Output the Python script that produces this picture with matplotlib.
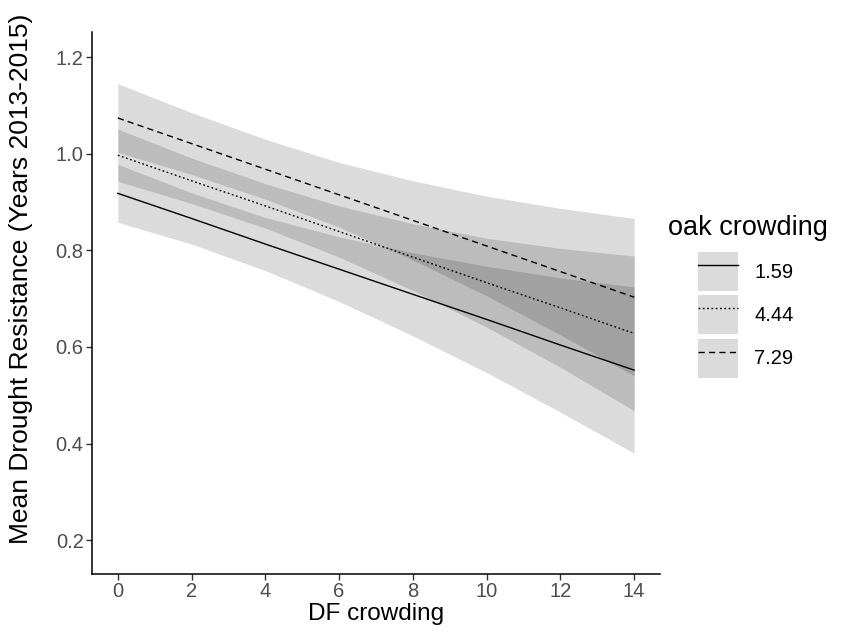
import matplotlib
matplotlib.use("Agg")
import matplotlib.pyplot as plt
from matplotlib.patches import Patch
from matplotlib.lines import Line2D

plt.rcParams["font.family"] = ["Liberation Sans", "DejaVu Sans"]

# predicted resistance vs DF crowding, one curve per oak crowding level
df_crowding = [0, 2, 4, 6, 8, 10, 12, 14]
oak_levels = ["1.59", "4.44", "7.29"]

fit_159 = [0.918, 0.866, 0.813, 0.761, 0.709, 0.657, 0.604, 0.552]
lo_159 = [0.858, 0.813, 0.758, 0.694, 0.623, 0.547, 0.465, 0.380]
hi_159 = [0.978, 0.919, 0.868, 0.828, 0.795, 0.767, 0.743, 0.724]

fit_444 = [0.997, 0.944, 0.892, 0.839, 0.786, 0.733, 0.681, 0.628]
lo_444 = [0.943, 0.897, 0.846, 0.786, 0.717, 0.641, 0.558, 0.468]
hi_444 = [1.051, 0.991, 0.938, 0.892, 0.855, 0.825, 0.804, 0.788]

fit_729 = [1.074, 1.021, 0.968, 0.915, 0.862, 0.809, 0.756, 0.703]
lo_729 = [1.003, 0.957, 0.906, 0.848, 0.780, 0.706, 0.625, 0.540]
hi_729 = [1.145, 1.085, 1.030, 0.982, 0.944, 0.912, 0.887, 0.866]

x_ticks = [0, 2, 4, 6, 8, 10, 12, 14]
y_ticks = [0.2, 0.4, 0.6, 0.8, 1.0, 1.2]

fits = [fit_159, fit_444, fit_729]
lows = [lo_159, lo_444, lo_729]
highs = [hi_159, hi_444, hi_729]
styles = ["-", (0, (1.3, 1.8)), (0, (4.5, 3))]
band_alpha = 0.14

fig = plt.figure(figsize=(8.65, 6.33), dpi=100)
ax = fig.add_axes([92 / 865, 1 - 574 / 633, 568 / 865, 542 / 633])

for lo, hi in zip(lows, highs):
    ax.fill_between(df_crowding, lo, hi, color="black", alpha=band_alpha, lw=0)
for fit, ls in zip(fits, styles):
    ax.plot(df_crowding, fit, color="black", lw=1.0, linestyle=ls)

ax.set_xlim(-0.7, 14.7)
ax.set_ylim(0.13, 1.252)
ax.set_xticks(x_ticks)
ax.set_yticks(y_ticks)
ax.set_yticklabels([f"{v:.1f}" for v in y_ticks])

for side in ["top", "right"]:
    ax.spines[side].set_visible(False)
for side in ["left", "bottom"]:
    ax.spines[side].set_linewidth(1.1)
ax.tick_params(length=4, width=1.0, color="#333333", labelcolor="#4d4d4d",
               labelsize=14.5, pad=2)

ax.set_xlabel("DF crowding", fontsize=17.5, labelpad=1)
ax.set_ylabel("Mean Drought Resistance (Years 2013-2015)", fontsize=19)
ax.yaxis.set_label_coords(-0.103, 0.545)

# legend: grey ribbon key with the line drawn on top
handles = [(Patch(facecolor="black", alpha=band_alpha, lw=0),
            Line2D([], [], color="black", lw=1.0, linestyle=ls)) for ls in styles]
fig.text(668 / 865, 1 - 228 / 633, "oak crowding", fontsize=19.5, va="center", ha="left")
fig.legend(handles, oak_levels, loc="upper left",
           bbox_to_anchor=(696 / 865, 1 - 250 / 633), frameon=False,
           fontsize=14.5, handlelength=2.0, handleheight=2.6, handletextpad=0.8,
           labelspacing=0.22, borderaxespad=0, borderpad=0.1)

fig.savefig("out.png", dpi=100)
